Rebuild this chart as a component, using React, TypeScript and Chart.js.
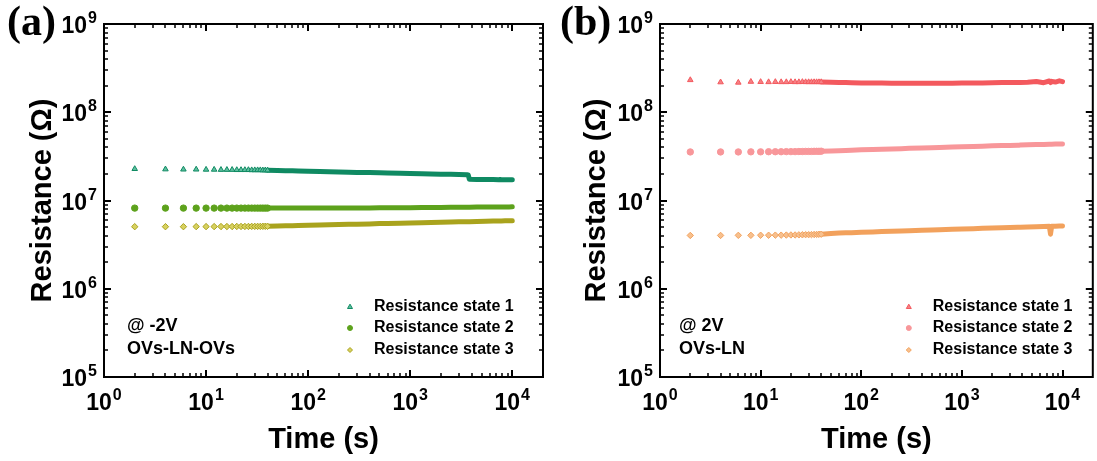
import React, { useEffect, useRef } from 'react';
import { Chart, registerables } from 'chart.js';

Chart.register(...registerables);

// ---------------- data ----------------
const TIME_S = [
  2, 4, 6, 8, 10, 12, 14, 16, 18, 20, 22, 24, 26, 28, 30, 32, 34, 36, 38, 40,
  50, 60, 70, 80, 100, 130, 160, 200, 250, 300, 400, 500, 600, 800, 1000, 1300,
  1600, 2000, 2500, 3000, 3600, 3700, 3800, 4500, 5500, 6500, 7400, 7600, 7800,
  8500, 9300, 10000,
];

// panel (a) @ -2V, OVs-LN-OVs
const A_STATE_1 = [
  2.28e7, 2.26e7, 2.25e7, 2.25e7, 2.24e7, 2.24e7, 2.23e7, 2.23e7, 2.23e7, 2.22e7,
  2.22e7, 2.22e7, 2.22e7, 2.21e7, 2.21e7, 2.21e7, 2.21e7, 2.2e7, 2.2e7, 2.2e7,
  2.19e7, 2.18e7, 2.17e7, 2.16e7, 2.15e7, 2.13e7, 2.12e7, 2.11e7, 2.09e7, 2.08e7,
  2.07e7, 2.06e7, 2.05e7, 2.03e7, 2.02e7, 2.01e7, 2.0e7, 1.99e7, 1.98e7, 1.97e7,
  1.96e7, 1.95e7, 1.74e7, 1.73e7, 1.73e7, 1.73e7, 1.72e7, 1.73e7, 1.72e7, 1.72e7,
  1.72e7, 1.72e7,
];
const A_STATE_2 = [
  8.2e6, 8.2e6, 8.2e6, 8.2e6, 8.2e6, 8.2e6, 8.2e6, 8.2e6, 8.2e6, 8.2e6,
  8.2e6, 8.2e6, 8.2e6, 8.2e6, 8.2e6, 8.2e6, 8.2e6, 8.2e6, 8.2e6, 8.2e6,
  8.2e6, 8.2e6, 8.2e6, 8.2e6, 8.21e6, 8.21e6, 8.22e6, 8.22e6, 8.23e6, 8.23e6,
  8.24e6, 8.25e6, 8.26e6, 8.28e6, 8.29e6, 8.31e6, 8.33e6, 8.35e6, 8.37e6, 8.38e6,
  8.4e6, 8.4e6, 8.41e6, 8.42e6, 8.43e6, 8.44e6, 8.45e6, 8.45e6, 8.45e6, 8.46e6,
  8.46e6, 8.47e6,
];
const A_STATE_3 = [
  5.05e6, 5.05e6, 5.05e6, 5.06e6, 5.06e6, 5.06e6, 5.07e6, 5.07e6, 5.07e6, 5.08e6,
  5.08e6, 5.08e6, 5.08e6, 5.09e6, 5.09e6, 5.09e6, 5.09e6, 5.1e6, 5.1e6, 5.1e6,
  5.13e6, 5.16e6, 5.18e6, 5.2e6, 5.23e6, 5.27e6, 5.3e6, 5.33e6, 5.37e6, 5.39e6,
  5.43e6, 5.47e6, 5.49e6, 5.53e6, 5.57e6, 5.6e6, 5.63e6, 5.67e6, 5.7e6, 5.73e6,
  5.75e6, 5.76e6, 5.76e6, 5.78e6, 5.81e6, 5.84e6, 5.86e6, 5.86e6, 5.87e6, 5.88e6,
  5.89e6, 5.9e6,
];

// panel (b) @ 2V, OVs-LN
const B_STATE_1 = [
  2.32e8, 2.19e8, 2.17e8, 2.22e8, 2.21e8, 2.2e8, 2.21e8, 2.2e8, 2.2e8, 2.21e8,
  2.2e8, 2.2e8, 2.21e8, 2.2e8, 2.2e8, 2.2e8, 2.2e8, 2.2e8, 2.2e8, 2.2e8,
  2.19e8, 2.18e8, 2.17e8, 2.16e8, 2.15e8, 2.14e8, 2.14e8, 2.13e8, 2.13e8, 2.13e8,
  2.13e8, 2.13e8, 2.13e8, 2.13e8, 2.14e8, 2.14e8, 2.15e8, 2.16e8, 2.17e8, 2.17e8,
  2.18e8, 2.18e8, 2.18e8, 2.19e8, 2.23e8, 2.16e8, 2.26e8, 2.17e8, 2.24e8, 2.2e8,
  2.27e8, 2.22e8,
];
const B_STATE_2 = [
  3.55e7, 3.55e7, 3.55e7, 3.56e7, 3.56e7, 3.57e7, 3.57e7, 3.57e7, 3.58e7, 3.58e7,
  3.58e7, 3.59e7, 3.59e7, 3.6e7, 3.6e7, 3.6e7, 3.61e7, 3.61e7, 3.61e7, 3.62e7,
  3.65e7, 3.67e7, 3.69e7, 3.71e7, 3.75e7, 3.78e7, 3.81e7, 3.84e7, 3.87e7, 3.9e7,
  3.94e7, 3.97e7, 3.99e7, 4.03e7, 4.06e7, 4.1e7, 4.13e7, 4.16e7, 4.19e7, 4.21e7,
  4.24e7, 4.24e7, 4.25e7, 4.27e7, 4.3e7, 4.32e7, 4.34e7, 4.34e7, 4.35e7, 4.36e7,
  4.37e7, 4.38e7,
];
const B_STATE_3 = [
  4.02e6, 4.02e6, 4.03e6, 4.03e6, 4.04e6, 4.04e6, 4.05e6, 4.05e6, 4.06e6, 4.07e6,
  4.07e6, 4.08e6, 4.09e6, 4.1e6, 4.1e6, 4.11e6, 4.12e6, 4.13e6, 4.14e6, 4.15e6,
  4.24e6, 4.27e6, 4.3e6, 4.32e6, 4.36e6, 4.4e6, 4.44e6, 4.48e6, 4.52e6, 4.55e6,
  4.6e6, 4.64e6, 4.67e6, 4.72e6, 4.76e6, 4.8e6, 4.84e6, 4.88e6, 4.92e6, 4.95e6,
  4.98e6, 4.98e6, 4.99e6, 5.02e6, 5.05e6, 5.08e6, 5.1e6, 4.15e6, 5.1e6, 5.12e6,
  5.14e6, 5.15e6,
];

const LEGEND_LABELS = ['Resistance state 1', 'Resistance state 2', 'Resistance state 3'];
const TICK_BASE = '10';
const X_TICK_VALUES = [1, 10, 100, 1000, 10000];
const X_TICK_EXPONENTS = ['0', '1', '2', '3', '4'];
const Y_TICK_VALUES = [1e5, 1e6, 1e7, 1e8, 1e9];
const Y_TICK_EXPONENTS = ['5', '6', '7', '8', '9'];
const X_RANGE = [1, 20000];
const Y_RANGE = [1e5, 1e9];

// ---------------- style ----------------
const FONT = "'Liberation Sans', Arial, sans-serif";
const DENSE_FROM = 40; // from here on the markers merge into a continuous band
const MINOR_MANTISSAS = [2, 3, 4, 5, 6, 7, 8, 9];
const POINT_STYLES = ['triangle', 'circle', 'rectRot'];

type PanelCfg = {
  letter: string;
  left: number;
  width: number;
  yAxisWidth: number;
  padRight: number;
  yTitlePad: number;
  letterLeft: number;
  notes: string[];
  noteDx: number;
  legendTextFromRight: number;
  series: number[][];
  colors: string[];
  fills: string[];
};

const PANELS: PanelCfg[] = [
  {
    letter: '(a)',
    left: 0,
    width: 550,
    yAxisWidth: 104,
    padRight: 7,
    yTitlePad: 26,
    letterLeft: 7,
    notes: ['@ -2V', 'OVs-LN-OVs'],
    noteDx: 23,
    legendTextFromRight: 169,
    series: [A_STATE_1, A_STATE_2, A_STATE_3],
    colors: ['#0f8a62', '#5da21c', '#a9a31d'],
    fills: ['#5fbfa0', '#5da21c', '#d8d160'],
  },
  {
    letter: '(b)',
    left: 550,
    width: 547,
    yAxisWidth: 110,
    padRight: 4,
    yTitlePad: 30,
    letterLeft: 560,
    notes: ['@ 2V', 'OVs-LN'],
    noteDx: 19,
    legendTextFromRight: 160,
    series: [B_STATE_1, B_STATE_2, B_STATE_3],
    colors: ['#f3595e', '#f8979a', '#f2a15c'],
    fills: ['#f68084', '#f8979a', '#f7c08e'],
  },
];

function drawMarker(ctx: CanvasRenderingContext2D, style: string, x: number, y: number, r: number, fill: string, stroke: string) {
  ctx.beginPath();
  if (style === 'triangle') {
    ctx.moveTo(x, y - r * 1.15);
    ctx.lineTo(x + r, y + r * 0.6);
    ctx.lineTo(x - r, y + r * 0.6);
    ctx.closePath();
  } else if (style === 'rectRot') {
    ctx.moveTo(x, y - r);
    ctx.lineTo(x + r, y);
    ctx.lineTo(x, y + r);
    ctx.lineTo(x - r, y);
    ctx.closePath();
  } else {
    ctx.arc(x, y, r, 0, Math.PI * 2);
  }
  ctx.fillStyle = fill;
  ctx.fill();
  ctx.lineWidth = 1;
  ctx.strokeStyle = stroke;
  ctx.stroke();
}

const BASE_FONT = `bold 23px ${FONT}`;
const EXP_FONT = `bold 16px ${FONT}`;

// power-of-ten label: "10" with a raised exponent; anchor 'center' or 'right'
function drawPow(ctx: CanvasRenderingContext2D, exp: string, x: number, baseline: number, anchor: 'center' | 'right') {
  ctx.font = BASE_FONT;
  const wb = ctx.measureText(TICK_BASE).width;
  ctx.font = EXP_FONT;
  const we = ctx.measureText(exp).width;
  const total = wb + 1 + we;
  const x0 = anchor === 'center' ? x - total / 2 : x - total;
  ctx.textAlign = 'left';
  ctx.textBaseline = 'alphabetic';
  ctx.fillStyle = '#000';
  ctx.font = BASE_FONT;
  ctx.fillText(TICK_BASE, x0, baseline);
  ctx.font = EXP_FONT;
  ctx.fillText(exp, x0 + wb + 1, baseline - 10);
}

function makeOverlay(cfg: PanelCfg) {
  return {
    id: 'overlay',
    afterDraw(chart: any) {
      const { ctx, chartArea: ca, scales } = chart;
      const xs = scales.x;
      const ys = scales.y;
      ctx.save();
      ctx.strokeStyle = '#000';
      ctx.lineCap = 'butt';

      // inward ticks on all four sides
      const tick = (pos: number, major: boolean, horizontal: boolean) => {
        const len = major ? 7 : 4;
        ctx.lineWidth = major ? 2 : 1.5;
        ctx.beginPath();
        if (horizontal) {
          ctx.moveTo(pos, ca.bottom);
          ctx.lineTo(pos, ca.bottom - len);
          ctx.moveTo(pos, ca.top);
          ctx.lineTo(pos, ca.top + len);
        } else {
          ctx.moveTo(ca.left, pos);
          ctx.lineTo(ca.left + len, pos);
          ctx.moveTo(ca.right, pos);
          ctx.lineTo(ca.right - len, pos);
        }
        ctx.stroke();
      };
      X_TICK_VALUES.forEach((d) => {
        tick(Math.round(xs.getPixelForValue(d)), true, true);
        MINOR_MANTISSAS.forEach((m) => {
          const v = m * d;
          if (v < xs.max) tick(Math.round(xs.getPixelForValue(v)), false, true);
        });
      });
      Y_TICK_VALUES.forEach((d) => {
        tick(Math.round(ys.getPixelForValue(d)), true, false);
        MINOR_MANTISSAS.forEach((m) => {
          const v = m * d;
          if (v < ys.max) tick(Math.round(ys.getPixelForValue(v)), false, false);
        });
      });

      // frame
      ctx.lineWidth = 2;
      ctx.strokeRect(ca.left, ca.top, ca.right - ca.left, ca.bottom - ca.top);

      // tick labels 10^n
      X_TICK_VALUES.forEach((v, i) => {
        drawPow(ctx, X_TICK_EXPONENTS[i], xs.getPixelForValue(v), ca.bottom + 33, 'center');
      });
      Y_TICK_VALUES.forEach((v, i) => {
        drawPow(ctx, Y_TICK_EXPONENTS[i], ca.left - 7, ys.getPixelForValue(v) + 9, 'right');
      });

      // legend inside the plot, bottom right
      const rowOffsets = [-70, -49, -27];
      const textX = ca.right - cfg.legendTextFromRight;
      ctx.textBaseline = 'middle';
      ctx.textAlign = 'left';
      chart.data.datasets.forEach((ds: any, i: number) => {
        const yy = ca.bottom + rowOffsets[i];
        drawMarker(ctx, POINT_STYLES[i], textX - 24, yy, 2.5, cfg.fills[i], cfg.colors[i]);
        ctx.fillStyle = '#000';
        ctx.font = `bold 16px ${FONT}`;
        ctx.fillText(ds.label, textX, yy);
      });

      // condition notes, bottom left
      ctx.font = `bold 18px ${FONT}`;
      const noteOffsets = [-51, -28];
      cfg.notes.forEach((t, i) => {
        ctx.fillStyle = '#000';
        ctx.fillText(t, ca.left + cfg.noteDx, ca.bottom + noteOffsets[i]);
      });
      ctx.restore();
    },
  };
}

function Panel({ cfg }: { cfg: PanelCfg }) {
  const ref = useRef<HTMLCanvasElement | null>(null);
  useEffect(() => {
    if (!ref.current) return;
    const datasets = cfg.series.map((vals, i) => {
      const color = cfg.colors[i];
      return {
        label: LEGEND_LABELS[i],
        data: TIME_S.map((t, j) => ({ x: t, y: vals[j] })),
        showLine: true,
        borderColor: color,
        borderWidth: 5,
        borderCapStyle: 'round',
        borderJoinStyle: 'round',
        tension: 0,
        segment: {
          borderColor: (c: any) => (c.p0.parsed.x >= DENSE_FROM ? color : 'rgba(0,0,0,0)'),
        },
        pointStyle: POINT_STYLES[i],
        pointRadius: (c: any) => (c.raw && c.raw.x > DENSE_FROM ? 0 : 3.2),
        pointHoverRadius: 0,
        pointBackgroundColor: cfg.fills[i],
        pointBorderColor: color,
        pointBorderWidth: 1,
      };
    });
    const titleFont = { family: FONT, size: 29, weight: 'bold' as const };
    const chart = new Chart(ref.current, {
      type: 'scatter',
      data: { datasets: datasets as any },
      options: {
        animation: false,
        responsive: false,
        events: [],
        layout: { padding: { left: 0, top: 24, right: cfg.padRight, bottom: 0 } },
        plugins: { legend: { display: false }, tooltip: { enabled: false } },
        scales: {
          x: {
            type: 'logarithmic',
            position: 'bottom',
            min: X_RANGE[0],
            max: X_RANGE[1],
            grid: { display: false, drawTicks: false },
            border: { display: false },
            afterFit: (s: any) => {
              s.height = 84;
            },
            ticks: { display: false },
            title: {
              display: true,
              text: 'Time (s)',
              color: '#000',
              font: titleFont,
              padding: { top: 0, bottom: 4 },
            },
          },
          y: {
            type: 'logarithmic',
            position: 'left',
            min: Y_RANGE[0],
            max: Y_RANGE[1],
            grid: { display: false, drawTicks: false },
            border: { display: false },
            afterFit: (s: any) => {
              s.width = cfg.yAxisWidth;
            },
            ticks: { display: false },
            title: {
              display: true,
              text: 'Resistance (Ω)',
              color: '#000',
              font: titleFont,
              padding: { top: cfg.yTitlePad, bottom: 0 },
            },
          },
        },
      },
      plugins: [makeOverlay(cfg) as any],
    });
    return () => chart.destroy();
  }, [cfg]);
  return (
    <canvas
      ref={ref}
      width={cfg.width}
      height={461}
      style={{ position: 'absolute', left: cfg.left, top: 0, width: cfg.width, height: 461 }}
    />
  );
}

export default function App() {
  return (
    <div style={{ position: 'absolute', left: 0, top: 0, width: 1097, height: 461, background: '#fff', overflow: 'hidden' }}>
      {PANELS.map((p) => (
        <Panel key={p.letter} cfg={p} />
      ))}
      {PANELS.map((p) => (
        <div
          key={p.letter + '-label'}
          style={{
            position: 'absolute',
            left: p.letterLeft,
            top: 0,
            fontFamily: "'Liberation Serif', 'Times New Roman', serif",
            fontWeight: 'bold',
            fontSize: 42,
            lineHeight: 1,
            color: '#000',
          }}
        >
          {p.letter}
        </div>
      ))}
    </div>
  );
}
